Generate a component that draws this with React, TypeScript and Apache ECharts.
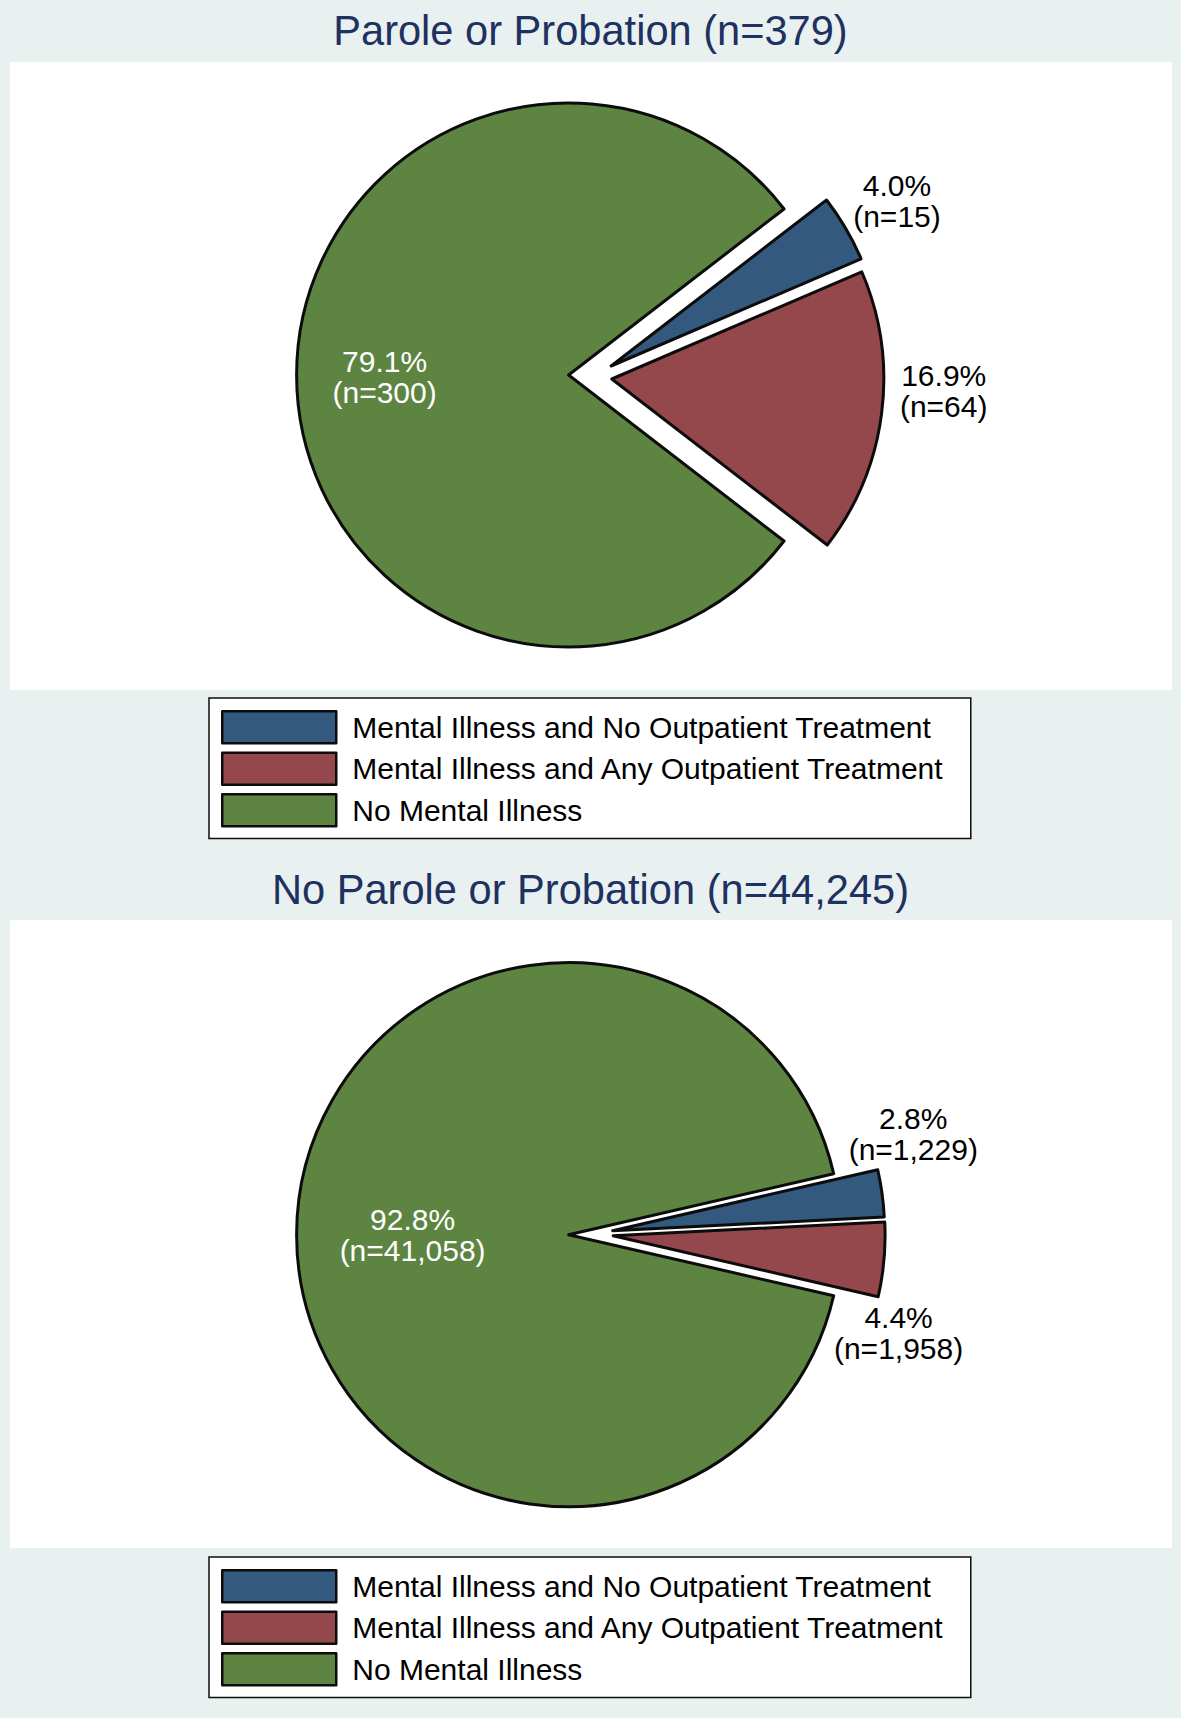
import React, { useEffect, useRef } from 'react';
import * as echarts from 'echarts';

// ---------- data ----------
const categories = [
  'Mental Illness and No Outpatient Treatment',
  'Mental Illness and Any Outpatient Treatment',
  'No Mental Illness',
];
const titles = ['Parole or Probation (n=379)', 'No Parole or Probation (n=44,245)'];
const parolePct = [4.0, 16.9, 79.1];
const paroleN = [15, 64, 300];
const noParolePct = [2.8, 4.4, 92.8];
const noParoleN = [1229, 1958, 41058];

// ---------- styles / layout ----------
const COLORS = ['#335A7E', '#94484C', '#5E8442'];
const BORDER = '#0c0c0c';
const BG = '#E8F0F0';
const TITLE_COLOR = '#1E3160';
const FONT = "'Liberation Sans', Arial, Helvetica, sans-serif";
const W = 1181;
const H = 1718;
const RADIUS = 272;
const HIDDEN = 'rgba(0,0,0,0)';

const panels = [
  {
    cx: 568.6, cy: 375, titleTop: 8, panelTop: 62, legendTop: 698,
    // explode shift of each slice (pixels)
    shifts: [[42.5, -9], [43.2, 4], [0, 0]],
    labelOffsets: [[166, -95], [194, -5], [-45, 2]],
  },
  {
    cx: 568.6, cy: 1234.7, titleTop: 867.5, panelTop: 920, legendTop: 1557,
    shifts: [[44, -4], [44.5, 1], [0, 0]],
    labelOffsets: [[163, -78], [147, 85], [-17, 0]],
  },
];

// One pie layer per slice: every layer holds all values (so the angles are
// computed by the pie layout), only its own slice is visible.
function buildLayers(pct: number[], n: number[], p: any) {
  const startAngle = ((pct[0] + pct[1]) * 3.6) / 2;
  return categories.map((_, k) => ({
    type: 'pie',
    name: `layer${k}`,
    center: [p.cx + p.shifts[k][0], p.cy + p.shifts[k][1]],
    radius: [0, RADIUS],
    startAngle,
    clockwise: true,
    avoidLabelOverlap: false,
    silent: true,
    z: 2 + k,
    emphasis: { disabled: true },
    label: {
      show: true,
      position: 'inside',
      fontSize: 30,
      lineHeight: 31,
      fontFamily: FONT,
      color: '#000',
      align: 'center',
    },
    labelLine: { show: false },
    data: categories.map((name, i) => {
      const visible = i === k;
      return {
        name,
        value: pct[i],
        itemStyle: visible
          ? { color: COLORS[i], borderColor: BORDER, borderWidth: 3 }
          : { color: HIDDEN, borderColor: HIDDEN, borderWidth: 0 },
        label: visible
          ? {
              show: true,
              formatter: `${pct[i].toFixed(1)}%\n(n=${n[i].toLocaleString('en-US')})`,
              color: i === 2 ? '#ffffff' : '#000000',
              offset: p.labelOffsets[i],
            }
          : { show: false },
      };
    }),
  }));
}

export default function App() {
  const ref = useRef<HTMLDivElement>(null);
  useEffect(() => {
    if (!ref.current) return;
    const chart = echarts.init(ref.current, undefined, { renderer: 'svg' });
    const option: any = {
      animation: false,
      backgroundColor: BG,
      graphic: {
        elements: panels.map((p) => ({
          type: 'rect',
          z: -10,
          silent: true,
          shape: { x: 10, y: p.panelTop, width: 1162, height: 628 },
          style: { fill: '#ffffff' },
        })),
      },
      title: titles.map((t, i) => ({
        text: t,
        left: 'center',
        top: panels[i].titleTop,
        padding: 0,
        textStyle: {
          fontSize: 41.6,
          fontWeight: 'normal',
          color: TITLE_COLOR,
          fontFamily: FONT,
          lineHeight: 44,
        },
      })),
      legend: panels.map((p) => ({
        data: categories.map((name, i) => ({
          name,
          itemStyle: { color: COLORS[i], borderColor: BORDER, borderWidth: 2.5, opacity: 1 },
        })),
        orient: 'vertical',
        left: 209,
        top: p.legendTop,
        itemWidth: 114,
        itemHeight: 32,
        itemGap: 7,
        padding: [12, 26, 11, 12],
        backgroundColor: '#ffffff',
        borderColor: BORDER,
        borderWidth: 1.5,
        icon: 'rect',
        selectedMode: false,
        textStyle: {
          fontSize: 30,
          lineHeight: 32,
          fontFamily: FONT,
          color: '#000',
          padding: [0, 0, 0, 11],
        },
      })),
      series: [
        ...buildLayers(parolePct, paroleN, panels[0]),
        ...buildLayers(noParolePct, noParoleN, panels[1]),
      ],
    };
    chart.setOption(option);
    return () => chart.dispose();
  }, []);
  return (
    <div
      ref={ref}
      style={{ position: 'absolute', left: 0, top: 0, width: W, height: H }}
    />
  );
}
